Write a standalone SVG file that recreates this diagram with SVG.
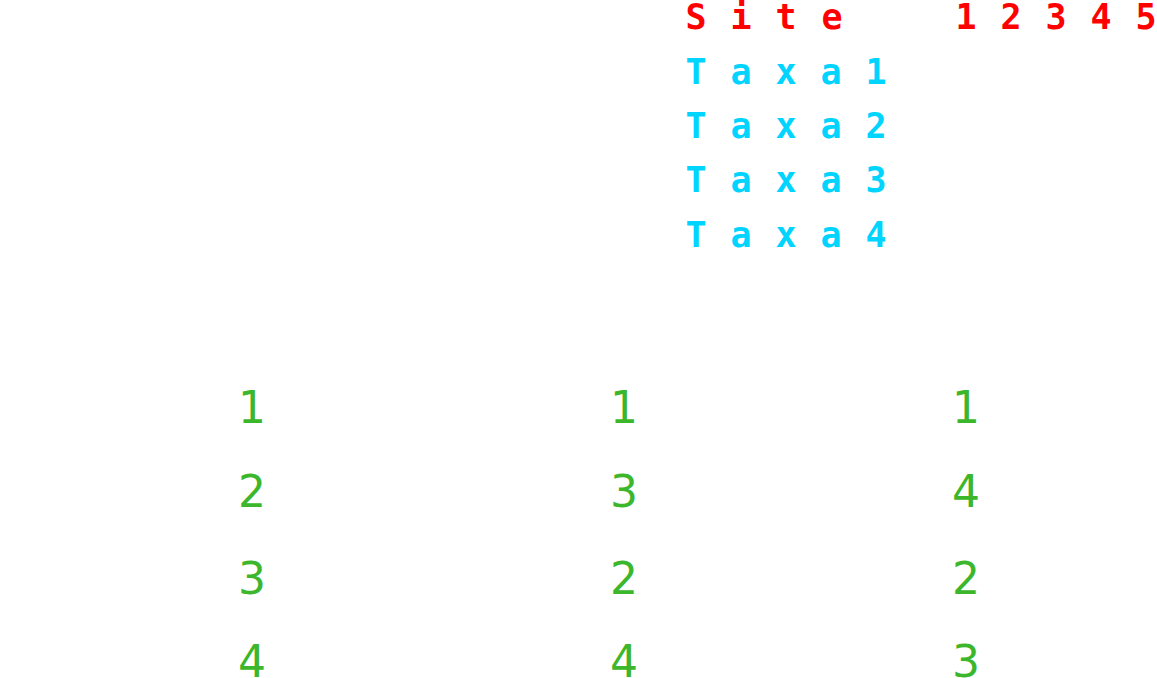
<svg xmlns="http://www.w3.org/2000/svg" width="1157" height="678" viewBox="0 0 1157 678">
<style>
.hdr{font-family:"DejaVu Sans Mono","Liberation Mono",monospace;font-weight:bold;font-size:35px;text-anchor:middle}
.site{fill:#ff0000}
.taxa{fill:#00d4ff}
.num{font-family:"DejaVu Sans","Verdana",sans-serif;font-size:44px;fill:#3cb72c;text-anchor:middle}
</style>
<rect width="1157" height="678" fill="#ffffff"/>
<g id="header">
<text class="hdr site" x="696 741 786 832" y="29">Site</text>
<text class="hdr site" x="966 1011 1056 1101 1146" y="29">12345</text>
</g>
<g id="taxa">
<text class="hdr taxa" x="696 741 786 831 876" y="84">Taxa1</text>
<text class="hdr taxa" x="696 741 786 831 876" y="138">Taxa2</text>
<text class="hdr taxa" x="696 741 786 831 876" y="192">Taxa3</text>
<text class="hdr taxa" x="696 741 786 831 876" y="247">Taxa4</text>
</g>
<g id="col1">
<text class="num" x="252" y="423">1</text>
<text class="num" x="252" y="507">2</text>
<text class="num" x="252" y="594">3</text>
<text class="num" x="252" y="677">4</text>
</g>
<g id="col2">
<text class="num" x="624" y="423">1</text>
<text class="num" x="624" y="507">3</text>
<text class="num" x="624" y="594">2</text>
<text class="num" x="624" y="677">4</text>
</g>
<g id="col3">
<text class="num" x="966" y="423">1</text>
<text class="num" x="966" y="507">4</text>
<text class="num" x="966" y="594">2</text>
<text class="num" x="966" y="677">3</text>
</g>
</svg>
